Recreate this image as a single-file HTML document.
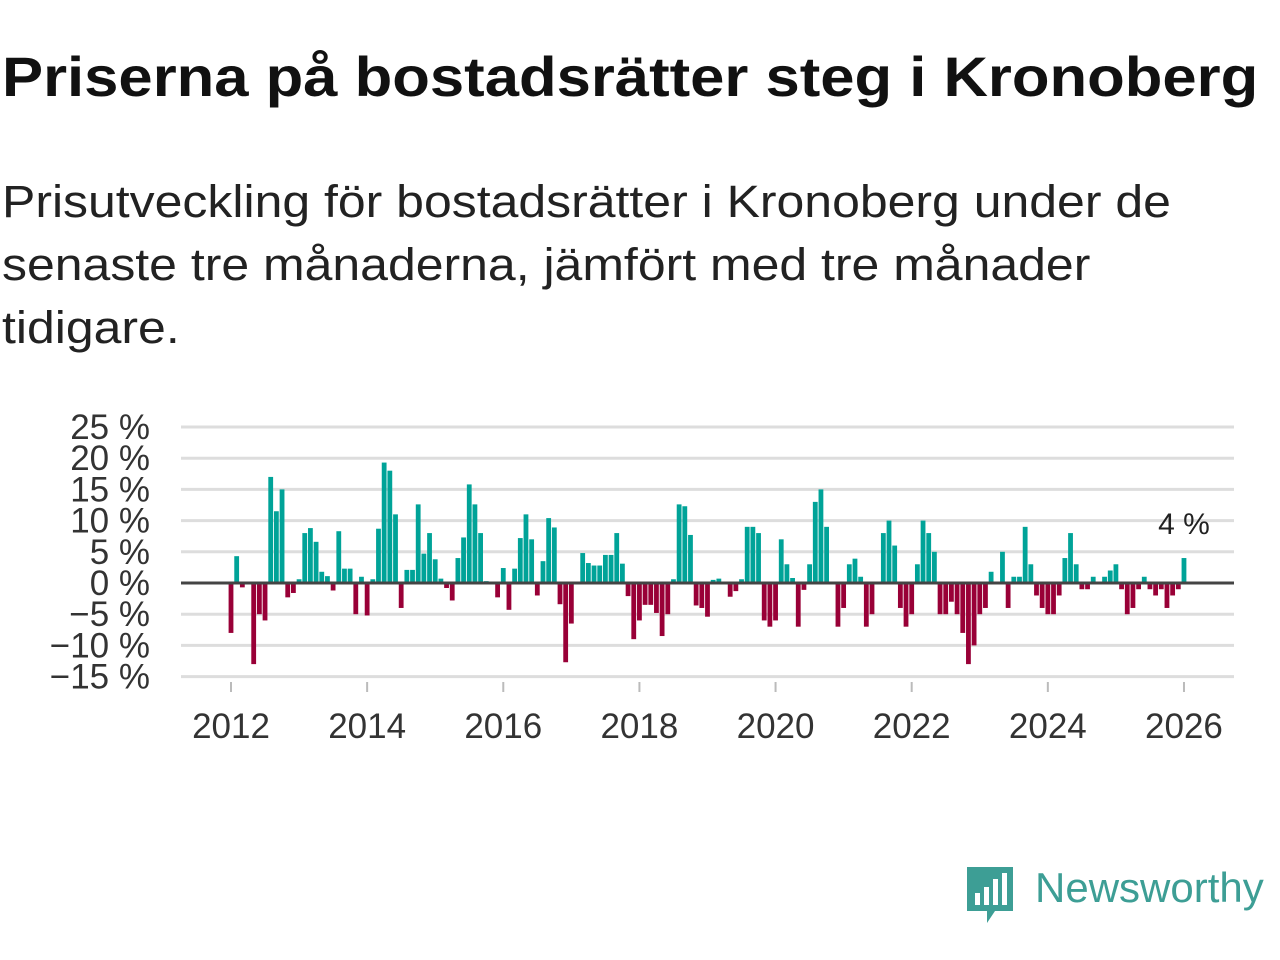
<!DOCTYPE html>
<html><head><meta charset="utf-8"><style>
body{margin:0;background:#fff;width:1280px;height:960px;overflow:hidden;font-family:"Liberation Sans","DejaVu Sans",sans-serif;position:relative}
h1{position:absolute;left:2px;top:44px;margin:0;font-size:56px;font-weight:bold;color:#111;white-space:nowrap;transform:scaleX(1.1);transform-origin:0 0}
.sub{position:absolute;left:2px;top:170px;margin:0;font-size:45px;line-height:63px;color:#222;white-space:nowrap;transform:scaleX(1.11);transform-origin:0 0}
</style></head><body>
<h1>Priserna på bostadsrätter steg i Kronoberg</h1>
<p class="sub">Prisutveckling för bostadsrätter i Kronoberg under de<br>senaste tre månaderna, jämfört med tre månader<br>tidigare.</p>
<svg id="chart" width="1280" height="960" style="position:absolute;left:0;top:0"></svg>
<div style="position:absolute;left:965px;top:865px;display:flex;align-items:center">
<svg width="50" height="60"><path d="M2 2h46v44H30l-8 12v-12H2z" fill="#3d9e95"/><rect x="10" y="28" width="5" height="12" fill="#fff"/><rect x="19" y="22" width="5" height="18" fill="#fff"/><rect x="28" y="14" width="5" height="26" fill="#fff"/><rect x="37" y="8" width="5" height="32" fill="#fff"/></svg>
<span style="font-size:42px;color:#3d9e95;margin-left:20px;margin-top:-14px">Newsworthy</span></div>
<script>
const values=[-8,4.3,-0.7,0,-13,-5,-6,17,11.5,15,-2.3,-1.6,
0.6,8,8.8,6.6,1.8,1.1,-1.2,8.3,2.3,2.3,-5,1,
-5.2,0.6,8.7,19.3,18,11,-4,2.1,2.1,12.6,4.7,8,
3.8,0.7,-0.8,-2.8,4,7.3,15.8,12.6,8,0.3,0,-2.3,
2.4,-4.3,2.3,7.2,11,7,-2,3.5,10.4,8.9,-3.4,-12.7,
-6.5,0,4.8,3.2,2.8,2.8,4.5,4.5,8,3.1,-2.1,-9,
-6,-3.5,-3.5,-4.8,-8.5,-5,0.6,12.6,12.3,7.7,-3.6,-4,
-5.4,0.5,0.7,0,-2.2,-1.3,0.6,9,9,8,-6,-7,
-6,7,3,0.8,-7,-1.1,3,13,15,9,0,-7,
-4,3,3.9,1,-7,-5,0,8,10,6,-4,-7,
-5,3,10,8,5,-5,-5,-3,-5,-8,-13,-10,
-5,-4,1.8,0,5,-4,1,1,9,3,-2,-4,
-5,-5,-2,4,8,3,-1,-1,1,0,1,2,
3,-1,-5,-4,-1,1,-1,-2,-1,-4,-2,-1,4];
const yTicks=[25,20,15,10,5,0,-5,-10,-15];
const xTicks=[2012,2014,2016,2018,2020,2022,2024,2026];
const svg=document.getElementById('chart');const NS='http://www.w3.org/2000/svg';
const y=v=>583-v*6.24;
const x=t=>231+(t-2012)*68.07;
function mk(tag,a){const e=document.createElementNS(NS,tag);for(const k in a)e.setAttribute(k,a[k]);svg.appendChild(e);return e;}
yTicks.forEach(t=>{
 const g=mk('line',{x1:181,x2:1234,y1:y(t),y2:y(t),stroke:'#dddddd','stroke-width':3});
 
 
 const l=mk('text',{x:150,y:y(t)+12,'text-anchor':'end','font-size':35,fill:'#333','font-family':'Liberation Sans, sans-serif'});
 l.textContent=(t<0?'\u2212'+(-t):t)+' %';
 
 
});
xTicks.forEach(t=>{
 const k=mk('line',{x1:x(t),x2:x(t),y1:682,y2:692,stroke:'#bbb','stroke-width':2});
 
 
 const l=mk('text',{x:x(t),y:738,'text-anchor':'middle','font-size':35,fill:'#333','font-family':'Liberation Sans, sans-serif'});
 l.textContent=t;
 
 
});
values.forEach((v,i)=>{
 const cx=x(2012+i/12);const y0=y(0),y1=y(v);
 const b=mk('rect',{x:cx-2.4,y:Math.min(y0,y1),width:4.8,height:Math.abs(y1-y0),fill:v>=0?'#00a398':'#990037'});
 
 
});
const z=mk('line',{x1:181,x2:1234,y1:y(0),y2:y(0),stroke:'#444','stroke-width':3});


const last=values[values.length-1];
const lab=mk('text',{x:x(2012+(values.length-1)/12),y:y(last)-24,'text-anchor':'middle','font-size':30,fill:'#222','font-family':'Liberation Sans, sans-serif'});
lab.textContent=Math.round(last)+' %';


</script>
</body></html>
